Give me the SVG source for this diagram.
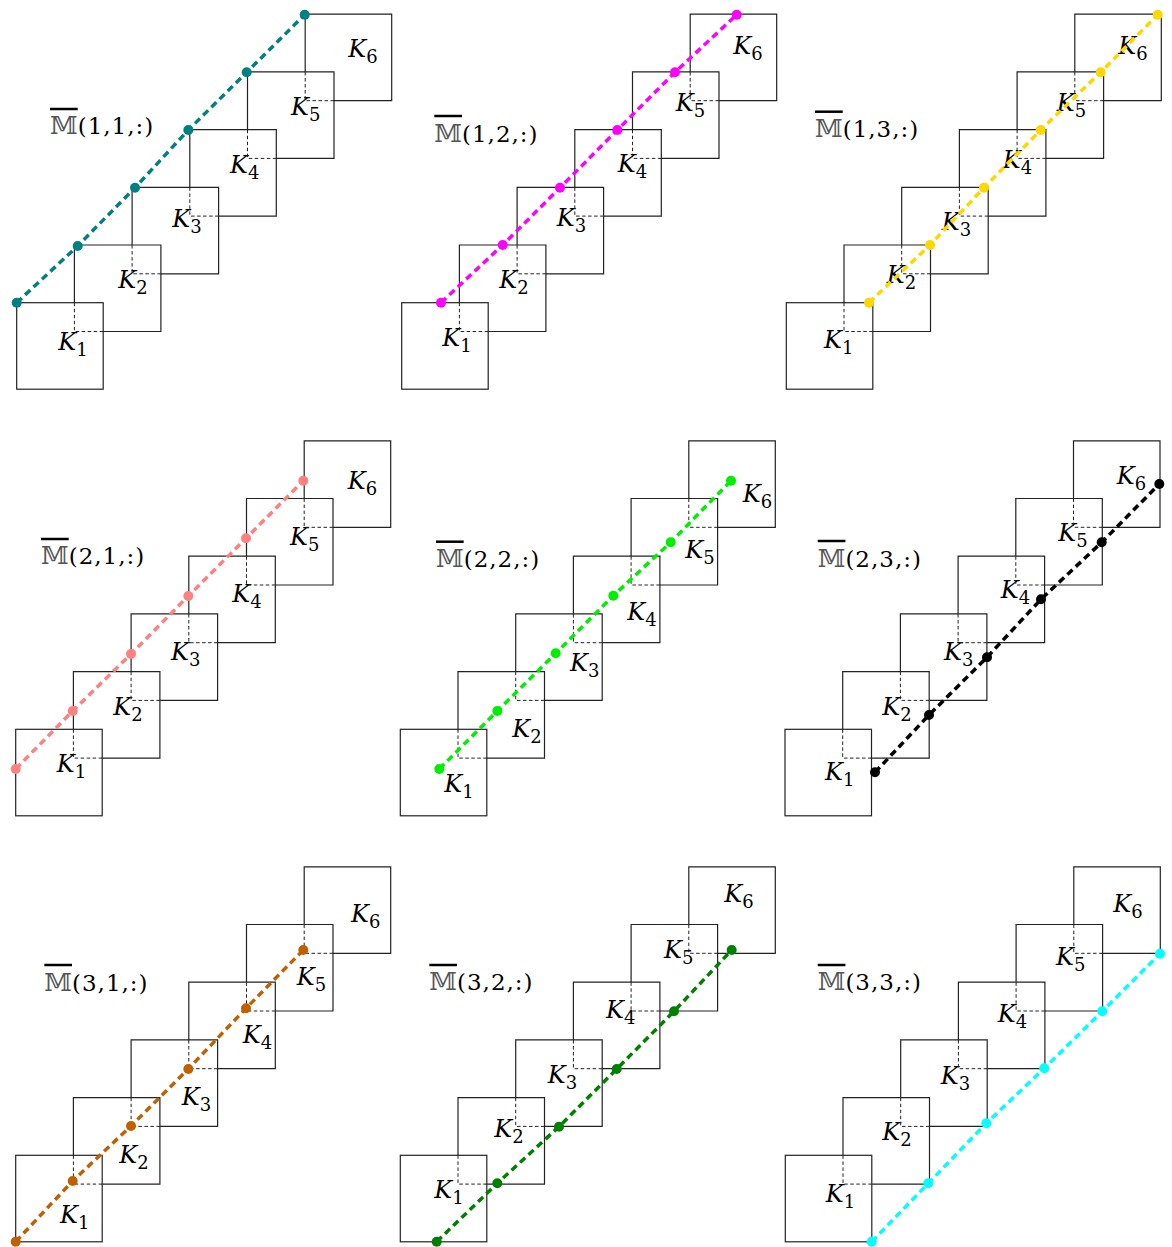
<svg xmlns="http://www.w3.org/2000/svg" xmlns:xlink="http://www.w3.org/1999/xlink" width="1172" height="1247" viewBox="0 0 1172 1247">
<style>
.sq{fill:none;stroke:#222;stroke-width:1.2}
.hid{fill:none;stroke:#222;stroke-width:1;stroke-dasharray:3.5 2.5}
.k{font-family:"DejaVu Serif",serif;font-style:italic;font-size:24px;fill:#000}
.sub{font-size:18px;font-style:normal}
.ttl{font-family:"DejaVu Serif",serif;font-size:23px;letter-spacing:1px;fill:#000}
.bb{fill:#555;font-size:25px;letter-spacing:0}
.ov{stroke:#000;stroke-width:2.5}
.path{fill:none;stroke-width:3.5;stroke-dasharray:7 4.5}
.teal{stroke:#008080;fill:#008080}
.mag{stroke:#FF00FF;fill:#FF00FF}
.gold{stroke:#FFD700;fill:#FFD700}
.salm{stroke:#FF8080;fill:#FF8080}
.lime{stroke:#00EE00;fill:#00EE00}
.blk{stroke:#000;fill:#000}
.orng{stroke:#C06000;fill:#C06000}
.dgrn{stroke:#008000;fill:#008000}
.cyan{stroke:#00FFFF;fill:#00FFFF}
circle{stroke:none}
</style>
<defs>
<g id="back">
<path class="sq" d="M0,57.7 V0 H86.5 V86.5 H28.8"/>
<path class="hid" d="M28.8,86.5 H0 V57.7"/>
</g>
<rect id="front" class="sq" x="0" y="0" width="86.5" height="86.5"/>
</defs>
<rect width="1172" height="1247" fill="#fff"/>

<!-- Panel 1,1 -->
<g id="panel-1-1">
<g id="p11-K1"><use href="#front" x="16.7" y="302.7"/><text class="k" x="58.3" y="350">K<tspan class="sub" dy="6">1</tspan></text></g>
<g id="p11-K2"><use href="#back" x="74.4" y="245"/><text class="k" x="118.3" y="288.3">K<tspan class="sub" dy="6">2</tspan></text></g>
<g id="p11-K3"><use href="#back" x="132.1" y="187.3"/><text class="k" x="172.3" y="226.7">K<tspan class="sub" dy="6">3</tspan></text></g>
<g id="p11-K4"><use href="#back" x="189.8" y="129.6"/><text class="k" x="230" y="172.7">K<tspan class="sub" dy="6">4</tspan></text></g>
<g id="p11-K5"><use href="#back" x="247.5" y="71.9"/><text class="k" x="291" y="115">K<tspan class="sub" dy="6">5</tspan></text></g>
<g id="p11-K6"><use href="#back" x="305.2" y="14.2"/><text class="k" x="348.3" y="56.7">K<tspan class="sub" dy="6">6</tspan></text></g>
<g id="p11-title"><line class="ov" x1="50" y1="109" x2="77.7" y2="109"/><text class="ttl" x="50" y="134"><tspan class="bb">𝕄</tspan>(1,1,:)</text></g>
</g>

<!-- Panel 1,2 -->
<g id="panel-1-2">
<g id="p12-K1"><use href="#front" x="401.7" y="302.7"/><text class="k" x="442.3" y="345.7">K<tspan class="sub" dy="6">1</tspan></text></g>
<g id="p12-K2"><use href="#back" x="459.4" y="245"/><text class="k" x="499.3" y="288.3">K<tspan class="sub" dy="6">2</tspan></text></g>
<g id="p12-K3"><use href="#back" x="517.1" y="187.3"/><text class="k" x="556.7" y="226">K<tspan class="sub" dy="6">3</tspan></text></g>
<g id="p12-K4"><use href="#back" x="574.8" y="129.6"/><text class="k" x="617.7" y="171.7">K<tspan class="sub" dy="6">4</tspan></text></g>
<g id="p12-K5"><use href="#back" x="632.5" y="71.9"/><text class="k" x="675.7" y="111">K<tspan class="sub" dy="6">5</tspan></text></g>
<g id="p12-K6"><use href="#back" x="690.2" y="14.2"/><text class="k" x="733.3" y="54.3">K<tspan class="sub" dy="6">6</tspan></text></g>
<g id="p12-title"><line class="ov" x1="434.3" y1="116" x2="462" y2="116"/><text class="ttl" x="434.3" y="141.7"><tspan class="bb">𝕄</tspan>(1,2,:)</text></g>
</g>

<!-- Panel 1,3 -->
<g id="panel-1-3">
<g id="p13-K1"><use href="#front" x="786.3" y="302.7"/><text class="k" x="824" y="348.3">K<tspan class="sub" dy="6">1</tspan></text></g>
<g id="p13-K2"><use href="#back" x="844" y="245"/><text class="k" x="886.7" y="283.3">K<tspan class="sub" dy="6">2</tspan></text></g>
<g id="p13-K3"><use href="#back" x="901.7" y="187.3"/><text class="k" x="941.7" y="230">K<tspan class="sub" dy="6">3</tspan></text></g>
<g id="p13-K4"><use href="#back" x="959.4" y="129.6"/><text class="k" x="1002.7" y="168.3">K<tspan class="sub" dy="6">4</tspan></text></g>
<g id="p13-K5"><use href="#back" x="1017.1" y="71.9"/><text class="k" x="1056.7" y="111">K<tspan class="sub" dy="6">5</tspan></text></g>
<g id="p13-K6"><use href="#back" x="1074.8" y="14.2"/><text class="k" x="1118.3" y="54.3">K<tspan class="sub" dy="6">6</tspan></text></g>
<g id="p13-title"><line class="ov" x1="815" y1="111.7" x2="842.7" y2="111.7"/><text class="ttl" x="815" y="137.3"><tspan class="bb">𝕄</tspan>(1,3,:)</text></g>
</g>

<!-- Panel 2,1 -->
<g id="panel-2-1">
<g id="p21-K1"><use href="#front" x="15.7" y="729.3"/><text class="k" x="56.7" y="772.3">K<tspan class="sub" dy="6">1</tspan></text></g>
<g id="p21-K2"><use href="#back" x="73.4" y="671.6"/><text class="k" x="113.3" y="715">K<tspan class="sub" dy="6">2</tspan></text></g>
<g id="p21-K3"><use href="#back" x="131.1" y="613.9"/><text class="k" x="171" y="660">K<tspan class="sub" dy="6">3</tspan></text></g>
<g id="p21-K4"><use href="#back" x="188.8" y="556.2"/><text class="k" x="232.3" y="602.3">K<tspan class="sub" dy="6">4</tspan></text></g>
<g id="p21-K5"><use href="#back" x="246.5" y="498.5"/><text class="k" x="290" y="545">K<tspan class="sub" dy="6">5</tspan></text></g>
<g id="p21-K6"><use href="#back" x="304.2" y="440.8"/><text class="k" x="347.7" y="489.3">K<tspan class="sub" dy="6">6</tspan></text></g>
<g id="p21-title"><line class="ov" x1="41" y1="539" x2="68.7" y2="539"/><text class="ttl" x="41" y="564.3"><tspan class="bb">𝕄</tspan>(2,1,:)</text></g>
</g>

<!-- Panel 2,2 -->
<g id="panel-2-2">
<g id="p22-K1"><use href="#front" x="400.3" y="729.3"/><text class="k" x="444.3" y="792.3">K<tspan class="sub" dy="6">1</tspan></text></g>
<g id="p22-K2"><use href="#back" x="458" y="671.6"/><text class="k" x="512.3" y="736.7">K<tspan class="sub" dy="6">2</tspan></text></g>
<g id="p22-K3"><use href="#back" x="515.7" y="613.9"/><text class="k" x="570" y="670.7">K<tspan class="sub" dy="6">3</tspan></text></g>
<g id="p22-K4"><use href="#back" x="573.4" y="556.2"/><text class="k" x="627.3" y="620">K<tspan class="sub" dy="6">4</tspan></text></g>
<g id="p22-K5"><use href="#back" x="631.1" y="498.5"/><text class="k" x="685.3" y="558.3">K<tspan class="sub" dy="6">5</tspan></text></g>
<g id="p22-K6"><use href="#back" x="688.8" y="440.8"/><text class="k" x="742.7" y="501.7">K<tspan class="sub" dy="6">6</tspan></text></g>
<g id="p22-title"><line class="ov" x1="436" y1="541.7" x2="463.7" y2="541.7"/><text class="ttl" x="436" y="566.7"><tspan class="bb">𝕄</tspan>(2,2,:)</text></g>
</g>

<!-- Panel 2,3 -->
<g id="panel-2-3">
<g id="p23-K1"><use href="#front" x="785" y="729.3"/><text class="k" x="825" y="780">K<tspan class="sub" dy="6">1</tspan></text></g>
<g id="p23-K2"><use href="#back" x="842.7" y="671.6"/><text class="k" x="882.3" y="715">K<tspan class="sub" dy="6">2</tspan></text></g>
<g id="p23-K3"><use href="#back" x="900.4" y="613.9"/><text class="k" x="944" y="660">K<tspan class="sub" dy="6">3</tspan></text></g>
<g id="p23-K4"><use href="#back" x="958.1" y="556.2"/><text class="k" x="1000.7" y="598.3">K<tspan class="sub" dy="6">4</tspan></text></g>
<g id="p23-K5"><use href="#back" x="1015.8" y="498.5"/><text class="k" x="1058.3" y="541">K<tspan class="sub" dy="6">5</tspan></text></g>
<g id="p23-K6"><use href="#back" x="1073.5" y="440.8"/><text class="k" x="1116.7" y="484.3">K<tspan class="sub" dy="6">6</tspan></text></g>
<g id="p23-title"><line class="ov" x1="817.7" y1="541" x2="845.4" y2="541"/><text class="ttl" x="817.7" y="567.3"><tspan class="bb">𝕄</tspan>(2,3,:)</text></g>
</g>

<!-- Panel 3,1 -->
<g id="panel-3-1">
<g id="p31-K1"><use href="#front" x="15.7" y="1155.3"/><text class="k" x="60" y="1222.7">K<tspan class="sub" dy="6">1</tspan></text></g>
<g id="p31-K2"><use href="#back" x="73.4" y="1097.6"/><text class="k" x="119.3" y="1162.7">K<tspan class="sub" dy="6">2</tspan></text></g>
<g id="p31-K3"><use href="#back" x="131.1" y="1039.9"/><text class="k" x="181.7" y="1105">K<tspan class="sub" dy="6">3</tspan></text></g>
<g id="p31-K4"><use href="#back" x="188.8" y="982.2"/><text class="k" x="242.7" y="1043.3">K<tspan class="sub" dy="6">4</tspan></text></g>
<g id="p31-K5"><use href="#back" x="246.5" y="924.5"/><text class="k" x="296.7" y="985">K<tspan class="sub" dy="6">5</tspan></text></g>
<g id="p31-K6"><use href="#back" x="304.2" y="866.8"/><text class="k" x="351" y="921.7">K<tspan class="sub" dy="6">6</tspan></text></g>
<g id="p31-title"><line class="ov" x1="44.3" y1="965" x2="72" y2="965"/><text class="ttl" x="44.3" y="990.7"><tspan class="bb">𝕄</tspan>(3,1,:)</text></g>
</g>

<!-- Panel 3,2 -->
<g id="panel-3-2">
<g id="p32-K1"><use href="#front" x="400.3" y="1155.3"/><text class="k" x="434.3" y="1198.3">K<tspan class="sub" dy="6">1</tspan></text></g>
<g id="p32-K2"><use href="#back" x="458" y="1097.6"/><text class="k" x="494.3" y="1137.3">K<tspan class="sub" dy="6">2</tspan></text></g>
<g id="p32-K3"><use href="#back" x="515.7" y="1039.9"/><text class="k" x="547.7" y="1083.3">K<tspan class="sub" dy="6">3</tspan></text></g>
<g id="p32-K4"><use href="#back" x="573.4" y="982.2"/><text class="k" x="606" y="1018.3">K<tspan class="sub" dy="6">4</tspan></text></g>
<g id="p32-K5"><use href="#back" x="631.1" y="924.5"/><text class="k" x="664" y="957.7">K<tspan class="sub" dy="6">5</tspan></text></g>
<g id="p32-K6"><use href="#back" x="688.8" y="866.8"/><text class="k" x="724.3" y="901.7">K<tspan class="sub" dy="6">6</tspan></text></g>
<g id="p32-title"><line class="ov" x1="429.3" y1="965" x2="457" y2="965"/><text class="ttl" x="429.3" y="990"><tspan class="bb">𝕄</tspan>(3,2,:)</text></g>
</g>

<!-- Panel 3,3 -->
<g id="panel-3-3">
<g id="p33-K1"><use href="#front" x="785.3" y="1155.3"/><text class="k" x="825.7" y="1201.7">K<tspan class="sub" dy="6">1</tspan></text></g>
<g id="p33-K2"><use href="#back" x="843" y="1097.6"/><text class="k" x="882.3" y="1140">K<tspan class="sub" dy="6">2</tspan></text></g>
<g id="p33-K3"><use href="#back" x="900.7" y="1039.9"/><text class="k" x="940.7" y="1084">K<tspan class="sub" dy="6">3</tspan></text></g>
<g id="p33-K4"><use href="#back" x="958.4" y="982.2"/><text class="k" x="997.7" y="1021.7">K<tspan class="sub" dy="6">4</tspan></text></g>
<g id="p33-K5"><use href="#back" x="1016.1" y="924.5"/><text class="k" x="1056" y="965">K<tspan class="sub" dy="6">5</tspan></text></g>
<g id="p33-K6"><use href="#back" x="1073.8" y="866.8"/><text class="k" x="1113.3" y="911.7">K<tspan class="sub" dy="6">6</tspan></text></g>
<g id="p33-title"><line class="ov" x1="817.7" y1="965" x2="845.4" y2="965"/><text class="ttl" x="817.7" y="990"><tspan class="bb">𝕄</tspan>(3,3,:)</text></g>
</g>

<g id="connectors">
<g class="teal"><polyline class="path teal" style="fill:none" points="16.7,302.7 77.7,246 135,187.7 188.3,130 246.7,72.3 304.7,14.7"/>
<circle cx="16.7" cy="302.7" r="5"/><circle cx="77.7" cy="246" r="5"/><circle cx="135" cy="187.7" r="5"/><circle cx="188.3" cy="130" r="5"/><circle cx="246.7" cy="72.3" r="5"/><circle cx="304.7" cy="14.7" r="5"/></g>
<g class="mag"><polyline class="path mag" style="fill:none" points="441,302.7 502.7,245 560,187.7 617.3,130 675,72.3 736.7,14.7"/>
<circle cx="441" cy="302.7" r="5"/><circle cx="502.7" cy="245" r="5"/><circle cx="560" cy="187.7" r="5"/><circle cx="617.3" cy="130" r="5"/><circle cx="675" cy="72.3" r="5"/><circle cx="736.7" cy="14.7" r="5"/></g>
<g class="gold"><polyline class="path gold" style="fill:none" points="869,302.7 930,245 984,187.7 1040.7,130 1100.7,72.3 1157.7,14.7"/>
<circle cx="869" cy="302.7" r="5"/><circle cx="930" cy="245" r="5"/><circle cx="984" cy="187.7" r="5"/><circle cx="1040.7" cy="130" r="5"/><circle cx="1100.7" cy="72.3" r="5"/><circle cx="1157.7" cy="14.7" r="5"/></g>
<g class="salm"><polyline class="path salm" style="fill:none" points="15.7,769 72.7,711 131,654 188.3,596 246,538.3 303.3,480.7"/>
<circle cx="15.7" cy="769" r="5"/><circle cx="72.7" cy="711" r="5"/><circle cx="131" cy="654" r="5"/><circle cx="188.3" cy="596" r="5"/><circle cx="246" cy="538.3" r="5"/><circle cx="303.3" cy="480.7" r="5"/></g>
<g class="lime"><polyline class="path lime" style="fill:none" points="439.3,769 497.3,711 555.7,653.3 613.3,595.7 670.7,542.3 731,480.7"/>
<circle cx="439.3" cy="769" r="5"/><circle cx="497.3" cy="711" r="5"/><circle cx="555.7" cy="653.3" r="5"/><circle cx="613.3" cy="595.7" r="5"/><circle cx="670.7" cy="542.3" r="5"/><circle cx="731" cy="480.7" r="5"/></g>
<g class="blk"><polyline class="path blk" style="fill:none" points="875,772.3 929,715 987,657.3 1041,599.3 1101.7,542.3 1159.3,484"/>
<circle cx="875" cy="772.3" r="5"/><circle cx="929" cy="715" r="5"/><circle cx="987" cy="657.3" r="5"/><circle cx="1041" cy="599.3" r="5"/><circle cx="1101.7" cy="542.3" r="5"/><circle cx="1159.3" cy="484" r="5"/></g>
<g class="orng"><polyline class="path orng" style="fill:none" points="15.7,1241.7 72.7,1181 131,1126 188.3,1069 246,1008.3 303.3,950"/>
<circle cx="15.7" cy="1241.7" r="5"/><circle cx="72.7" cy="1181" r="5"/><circle cx="131" cy="1126" r="5"/><circle cx="188.3" cy="1069" r="5"/><circle cx="246" cy="1008.3" r="5"/><circle cx="303.3" cy="950" r="5"/></g>
<g class="dgrn"><polyline class="path dgrn" style="fill:none" points="436.7,1241.7 497.3,1183.3 559,1126.7 616.7,1069 674,1011.3 731.7,950"/>
<circle cx="436.7" cy="1241.7" r="5"/><circle cx="497.3" cy="1183.3" r="5"/><circle cx="559" cy="1126.7" r="5"/><circle cx="616.7" cy="1069" r="5"/><circle cx="674" cy="1011.3" r="5"/><circle cx="731.7" cy="950" r="5"/></g>
<g class="cyan"><polyline class="path cyan" style="fill:none" points="871.7,1241.7 928.3,1183.3 986.3,1123.3 1044.3,1068.3 1102.3,1011.3 1160,953.7"/>
<circle cx="871.7" cy="1241.7" r="5"/><circle cx="928.3" cy="1183.3" r="5"/><circle cx="986.3" cy="1123.3" r="5"/><circle cx="1044.3" cy="1068.3" r="5"/><circle cx="1102.3" cy="1011.3" r="5"/><circle cx="1160" cy="953.7" r="5"/></g>
</g>
</svg>
